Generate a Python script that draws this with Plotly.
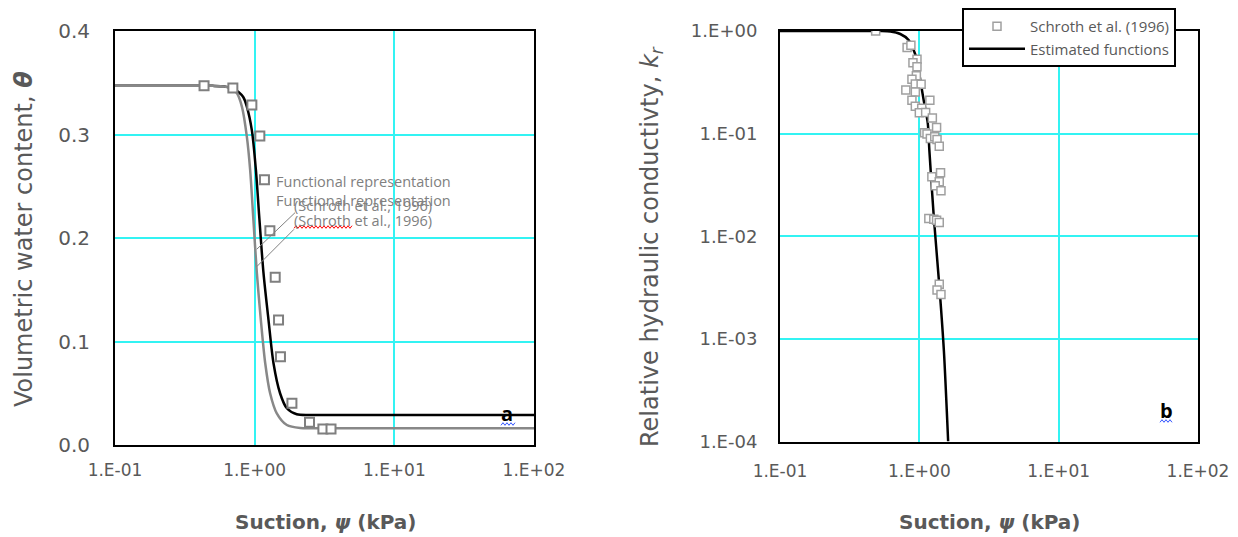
import plotly.graph_objects as go

W, H = 1238, 537

# ---------------- Panel a: soil-water characteristic curve ----------------
swcc_psi_obs = [0.434, 0.698, 0.955, 1.089, 1.175, 1.285, 1.403, 1.482, 1.53, 1.848, 2.47, 3.08, 3.52]
swcc_theta_obs = [0.347, 0.345, 0.3285, 0.2985, 0.2563, 0.207, 0.162, 0.1208, 0.0853, 0.0403, 0.022, 0.0155, 0.0155]

swcc_est_psi = [0.1, 0.3, 0.5, 0.6, 0.7, 0.766, 0.83, 0.879, 0.955, 1.02, 1.083, 1.157, 1.256, 1.364, 1.52, 1.70, 2.0, 2.5, 5, 10, 50, 100]
swcc_est_theta = [0.347, 0.347, 0.347, 0.3465, 0.3445, 0.341, 0.336, 0.327, 0.304, 0.266, 0.217, 0.166, 0.121, 0.079, 0.050, 0.0355, 0.0297, 0.029, 0.029, 0.029, 0.029, 0.029]

swcc_fr_psi = [0.1, 0.3, 0.5, 0.6, 0.68, 0.745, 0.81, 0.879, 0.928, 0.98, 1.037, 1.107, 1.19, 1.29, 1.44, 1.70, 2.12, 3.0, 10, 50, 100]
swcc_fr_theta = [0.347, 0.347, 0.347, 0.3465, 0.344, 0.340, 0.327, 0.298, 0.266, 0.217, 0.166, 0.121, 0.079, 0.050, 0.0306, 0.0193, 0.0164, 0.0163, 0.0163, 0.0163, 0.0163]

# ---------------- Panel b: relative hydraulic conductivity ----------------
kr_psi_obs = [0.486, 0.817, 0.87, 0.962, 0.90, 0.962, 0.952, 0.885, 0.936, 1.03, 0.80, 0.936, 0.885, 1.19,
              0.936, 1.04, 1.0, 1.11, 1.24, 1.33, 1.09, 1.135, 1.2, 1.29, 1.34, 1.39, 1.42, 1.23, 1.39,
              1.30, 1.43, 1.17, 1.27, 1.33, 1.39, 1.39, 1.34, 1.43]
kr_obs = [1.0, 0.69, 0.725, 0.53, 0.49, 0.449, 0.366, 0.338, 0.304, 0.302, 0.266, 0.254, 0.212, 0.211,
          0.185, 0.177, 0.16, 0.161, 0.142, 0.115, 0.102, 0.099, 0.0898, 0.093, 0.0877, 0.0755, 0.0415, 0.038,
          0.0339, 0.031, 0.0277, 0.0149, 0.01465, 0.0143, 0.0136, 0.0034, 0.0030, 0.0027]

kr_est_psi = [0.1, 0.4, 0.52, 0.62, 0.73, 0.838, 0.91, 0.962, 1.016, 1.074, 1.15, 1.18, 1.27, 1.40, 1.50, 1.61]
kr_est = [1.0, 1.0, 1.0, 0.99, 0.935, 0.817, 0.653, 0.521, 0.333, 0.212, 0.126, 0.069, 0.0154, 0.00297, 0.00077, 0.0001]

# ---------------- tick labels ----------------
x_tickvals = [0.1, 1, 10, 100]
x_ticktext = ["1.E-01", "1.E+00", "1.E+01", "1.E+02"]
theta_tickvals = [0.0, 0.1, 0.2, 0.3, 0.4]
theta_ticktext = ["0.0", "0.1", "0.2", "0.3", "0.4"]
kr_tickvals = [1e-4, 1e-3, 1e-2, 1e-1, 1]
kr_ticktext = ["1.E-04", "1.E-03", "1.E-02", "1.E-01", "1.E+00"]

FONT = "DejaVu Sans"
LABEL_FONT = "Open Sans"
GRAY_TXT = "#595959"
GRID = "#33F3F3"


def px(x):
    return x / W


def py(y):
    return 1 - y / H


fig = go.Figure()

# panel a
fig.add_trace(go.Scatter(x=swcc_est_psi, y=swcc_est_theta, mode="lines", xaxis="x", yaxis="y",
                         line=dict(color="black", width=2.5, shape="spline", smoothing=0.8), showlegend=False))
fig.add_trace(go.Scatter(x=swcc_fr_psi, y=swcc_fr_theta, mode="lines", xaxis="x", yaxis="y",
                         line=dict(color="#888888", width=2.5, shape="spline", smoothing=0.8), showlegend=False))
fig.add_trace(go.Scatter(x=swcc_psi_obs, y=swcc_theta_obs, mode="markers", xaxis="x", yaxis="y",
                         marker=dict(symbol="square", size=9, color="white", line=dict(color="#7f7f7f", width=2)),
                         showlegend=False))

# panel b
fig.add_trace(go.Scatter(x=kr_est_psi, y=kr_est, mode="lines", xaxis="x2", yaxis="y2",
                         name="Estimated functions", legendrank=2,
                         line=dict(color="black", width=2.5, shape="spline", smoothing=0.8)))
fig.add_trace(go.Scatter(x=kr_psi_obs, y=kr_obs, mode="markers", xaxis="x2", yaxis="y2",
                         name="Schroth et al. (1996)", legendrank=1,
                         marker=dict(symbol="square", size=8, color="white", line=dict(color="#a0a0a0", width=1.5))))

axis_common = dict(showline=True, linecolor="black", linewidth=2, mirror=True, ticks="",
                   showgrid=True, gridcolor=GRID, gridwidth=1.5, zeroline=False, automargin=False)

fig.update_layout(
    width=W, height=H,
    margin=dict(l=0, r=0, t=0, b=0, autoexpand=False),
    paper_bgcolor="white", plot_bgcolor="white",
    font=dict(family=FONT, color=GRAY_TXT),
    xaxis=dict(axis_common, type="log", range=[-1, 2], domain=[px(115), px(534)], anchor="y",
               tickvals=x_tickvals, ticktext=x_ticktext, tickfont=dict(size=17, color=GRAY_TXT),
               ticklabelstandoff=9),
    yaxis=dict(axis_common, range=[0, 0.4], domain=[py(445), py(31)], anchor="x",
               tickvals=theta_tickvals, ticktext=theta_ticktext, tickfont=dict(size=20, color=GRAY_TXT),
               ticklabelstandoff=19),
    xaxis2=dict(axis_common, type="log", range=[-1, 2], domain=[px(780), px(1198)], anchor="y2",
                tickvals=x_tickvals, ticktext=x_ticktext, tickfont=dict(size=17, color=GRAY_TXT),
                ticklabelstandoff=13),
    yaxis2=dict(axis_common, type="log", range=[-4, 0], domain=[py(441.5), py(31)], anchor="x2",
                tickvals=kr_tickvals, ticktext=kr_ticktext, tickfont=dict(size=18, color=GRAY_TXT),
                ticklabelstandoff=17),
    legend=dict(x=px(962), y=py(8), xanchor="left", yanchor="top", bgcolor="white",
                bordercolor="black", borderwidth=2, font=dict(family=LABEL_FONT, size=15, color=GRAY_TXT),
                itemwidth=56, tracegroupgap=0),
)


def note(text, x, y, size, color=GRAY_TXT, angle=0, family=FONT):
    return dict(text=text, x=px(x), y=py(y), xref="paper", yref="paper", showarrow=False,
                xanchor="center", yanchor="middle", textangle=angle,
                font=dict(size=size, color=color, family=family))


ann = []
# axis titles
ann.append(note("<b>Suction, <i>ψ</i> (kPa)</b>", 326, 522, 20))
ann.append(note("<b>Suction, <i>ψ</i> (kPa)</b>", 990, 522, 20))
ann.append(note("Volumetric water content, <b><i>θ</i></b>", 24, 239, 24, angle=-90))
ann.append(note("Relative hydraulic conductivty, <i>k<sub>r</sub></i>", 651, 247, 24, angle=-90))
# data labels (two overlapping labels as in the reference)
ann.append(note("Functional representation", 363, 181, 14.5, "#808080", family=LABEL_FONT))
ann.append(note("(Schroth et al., 1996)", 363, 205, 14.5, "#808080", family=LABEL_FONT))
ann.append(note("Functional representation", 363, 200, 14.5, "#808080", family=LABEL_FONT))
ann.append(note("(Schroth et al., 1996)", 363, 220, 14.5, "#808080", family=LABEL_FONT))
# panel letters
ann.append(note("<b>a</b>", 507, 413, 20, "black", family=LABEL_FONT))
ann.append(note("<b>b</b>", 1166, 410, 20, "black", family=LABEL_FONT))
fig.update_layout(annotations=ann)

shapes = []
# leader lines
shapes.append(dict(type="line", xref="paper", yref="paper", x0=px(295), y0=py(212.7), x1=px(256.7), y1=py(249.3),
                   line=dict(color="#808080", width=1)))
shapes.append(dict(type="line", xref="paper", yref="paper", x0=px(294), y0=py(229.3), x1=px(256.7), y1=py(266.7),
                   line=dict(color="#808080", width=1)))


def squiggle(x0, x1, y, color, amp=1.3, step=2.0):
    pts = []
    x = x0
    k = 0
    while x <= x1:
        yy = y + (amp if k % 2 == 0 else -amp)
        pts.append((px(x), py(yy)))
        x += step
        k += 1
    d = "M " + " L ".join(f"{a:.5f},{b:.5f}" for a, b in pts)
    return dict(type="path", xref="paper", yref="paper", path=d, line=dict(color=color, width=1))


shapes.append(squiggle(294, 352, 227, "red"))
shapes.append(squiggle(501, 515, 424, "#3355ff"))
shapes.append(squiggle(1160, 1173, 421, "#3355ff"))
fig.update_layout(shapes=shapes)

fig.write_html("out.html")
